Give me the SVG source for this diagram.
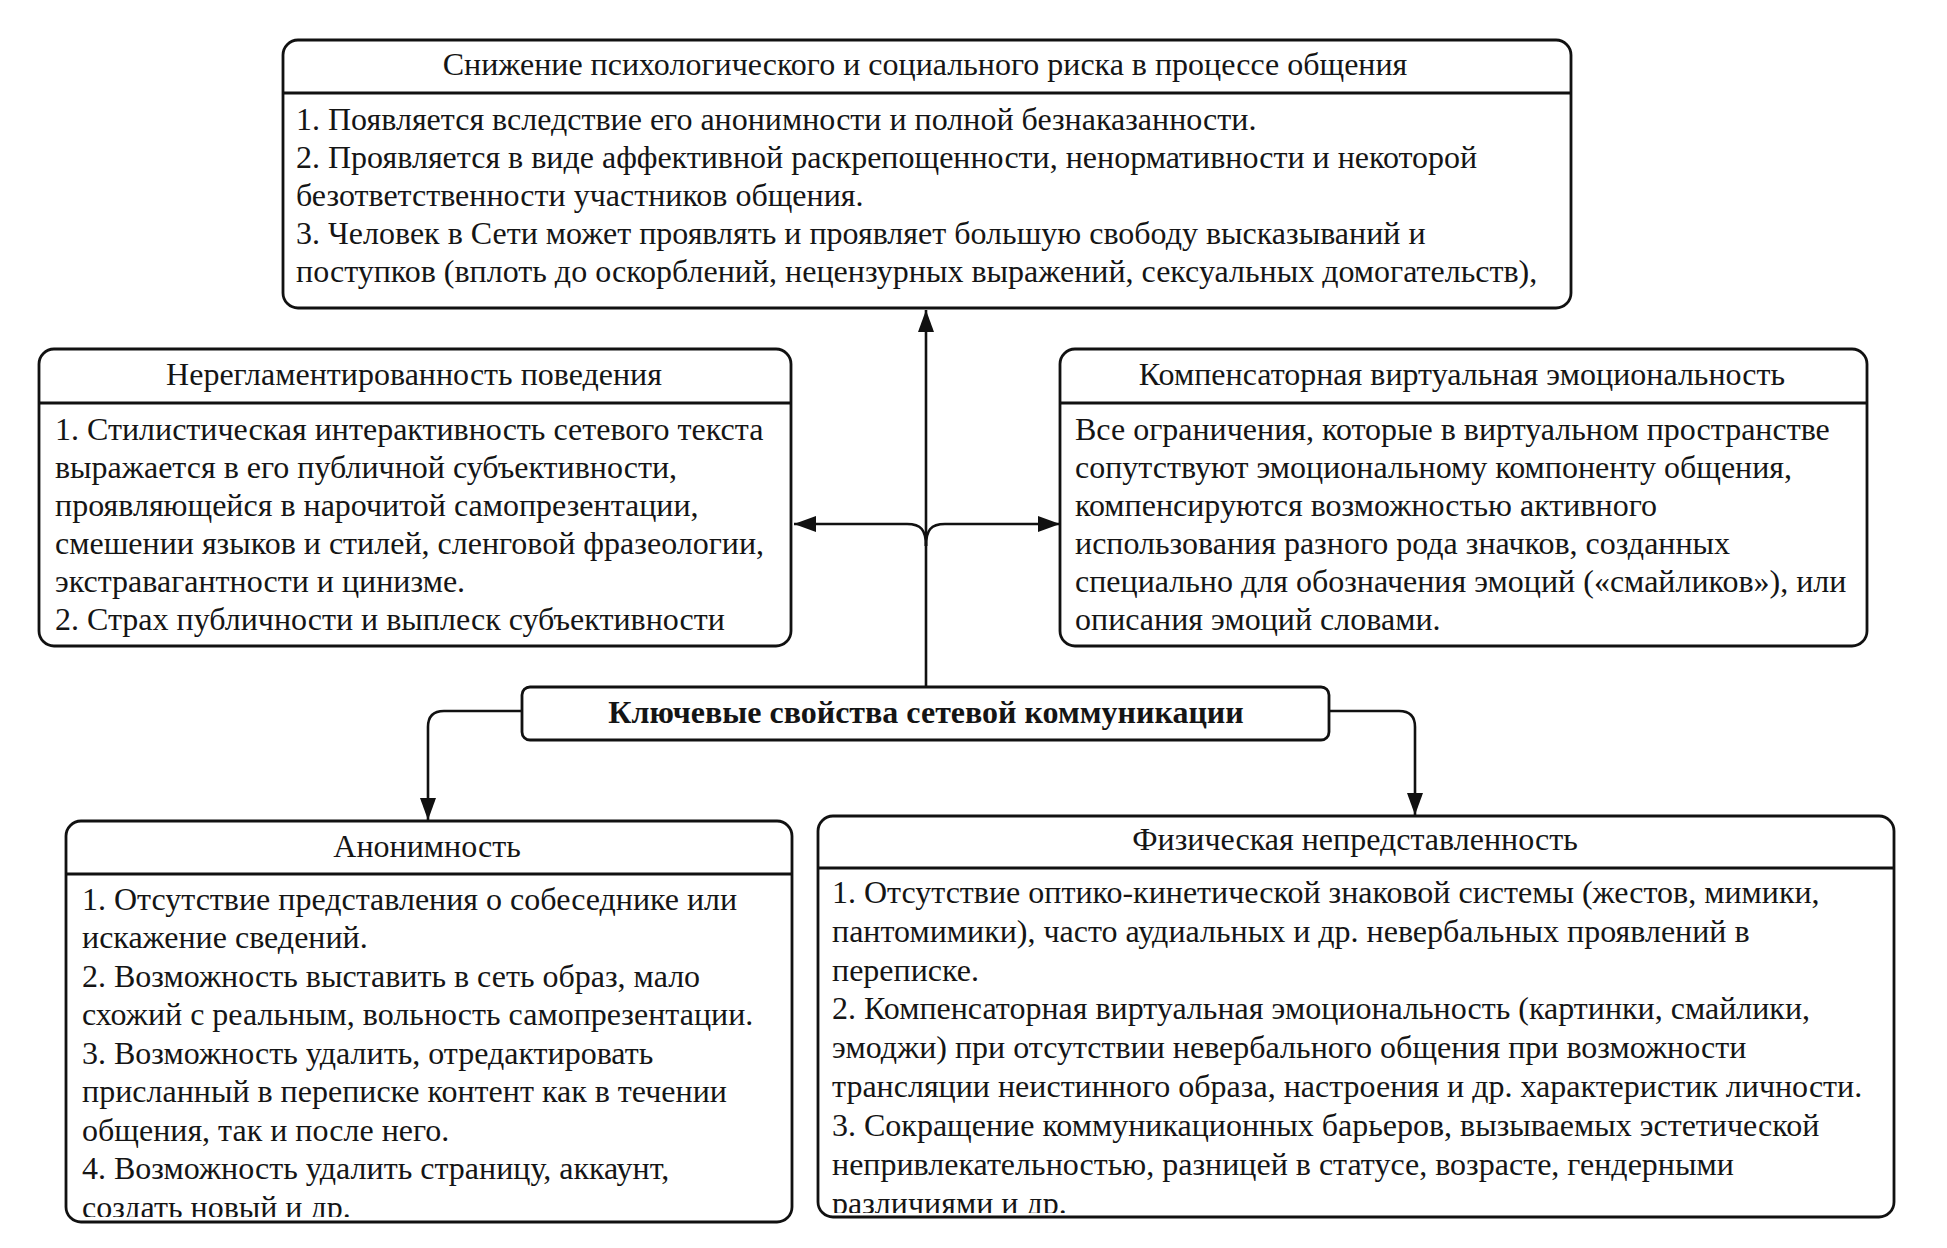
<svg xmlns="http://www.w3.org/2000/svg" width="1947" height="1248" viewBox="0 0 1947 1248">
<style>
.box{fill:#fff;stroke:#111;stroke-width:2.8}
.sep{stroke:#111;stroke-width:2.8}
.t{font-family:"Liberation Serif","Times New Roman",serif;font-size:32px;fill:#151515}
.m{text-anchor:middle}
.b{font-weight:bold}
.c{fill:none;stroke:#111;stroke-width:2.6}
</style>
<defs>
<marker id="arr" markerWidth="22" markerHeight="16" refX="22" refY="8" orient="auto" markerUnits="userSpaceOnUse">
<path d="M0,0 L22,8 L0,16 z" fill="#111"/>
</marker>
<clipPath id="clipTop"><rect x="283" y="94" width="1288" height="211"/></clipPath>
<clipPath id="clipAnon"><rect x="66" y="875" width="726" height="342"/></clipPath>
<clipPath id="clipPhys"><rect x="818" y="869" width="1076" height="344"/></clipPath>
</defs>
<rect width="1947" height="1248" fill="#fff"/>

<g id="connectors">
<path class="c" d="M926 687 L926 310" marker-end="url(#arr)"/>
<path class="c" d="M926 546 C926 530 921 524 907 524 L794 524" marker-end="url(#arr)"/>
<path class="c" d="M926 546 C926 530 931 524 945 524 L1060 524" marker-end="url(#arr)"/>
<path class="c" d="M521 711 L444 711 Q428 711 428 727 L428 820" marker-end="url(#arr)"/>
<path class="c" d="M1329 711 L1399 711 Q1415 711 1415 727 L1415 815" marker-end="url(#arr)"/>
</g>

<g id="node-risk">
<rect class="box" x="283" y="40" width="1288" height="268" rx="15"/>
<line class="sep" x1="283" y1="93" x2="1571" y2="93"/>
<text class="t m" x="925" y="75">Снижение психологического и социального риска в процессе общения</text>
<g clip-path="url(#clipTop)">
<text class="t" x="296" y="130">1. Появляется вследствие его анонимности и полной безнаказанности.</text>
<text class="t" x="296" y="168">2. Проявляется в виде аффективной раскрепощенности, ненормативности и некоторой</text>
<text class="t" x="296" y="206">безответственности участников общения.</text>
<text class="t" x="296" y="244">3. Человек в Сети может проявлять и проявляет большую свободу высказываний и</text>
<text class="t" x="296" y="282">поступков (вплоть до оскорблений, нецензурных выражений, сексуальных домогательств),</text>
</g>
</g>

<g id="node-behavior">
<rect class="box" x="39" y="349" width="752" height="297" rx="15"/>
<line class="sep" x1="39" y1="403" x2="791" y2="403"/>
<text class="t m" x="414" y="385">Нерегламентированность поведения</text>
<text class="t" x="55" y="440">1. Стилистическая интерактивность сетевого текста</text>
<text class="t" x="55" y="478">выражается в его публичной субъективности,</text>
<text class="t" x="55" y="516">проявляющейся в нарочитой самопрезентации,</text>
<text class="t" x="55" y="554">смешении языков и стилей, сленговой фразеологии,</text>
<text class="t" x="55" y="592">экстравагантности и цинизме.</text>
<text class="t" x="55" y="630">2. Страх публичности и выплеск субъективности</text>
</g>

<g id="node-emotion">
<rect class="box" x="1060" y="349" width="807" height="297" rx="15"/>
<line class="sep" x1="1060" y1="403" x2="1867" y2="403"/>
<text class="t m" x="1462" y="385">Компенсаторная виртуальная эмоциональность</text>
<text class="t" x="1075" y="440">Все ограничения, которые в виртуальном пространстве</text>
<text class="t" x="1075" y="478">сопутствуют эмоциональному компоненту общения,</text>
<text class="t" x="1075" y="516">компенсируются возможностью активного</text>
<text class="t" x="1075" y="554">использования разного рода значков, созданных</text>
<text class="t" x="1075" y="592">специально для обозначения эмоций («смайликов»), или</text>
<text class="t" x="1075" y="630">описания эмоций словами.</text>
</g>

<g id="node-center">
<rect class="box" x="522" y="687" width="807" height="53" rx="8"/>
<text class="t m b" x="926" y="723">Ключевые свойства сетевой коммуникации</text>
</g>

<g id="node-anon">
<rect class="box" x="66" y="821" width="726" height="401" rx="15"/>
<line class="sep" x1="66" y1="874" x2="792" y2="874"/>
<text class="t m" x="427" y="857">Анонимность</text>
<g clip-path="url(#clipAnon)">
<text class="t" x="82" y="910">1. Отсутствие представления о собеседнике или</text>
<text class="t" x="82" y="948">искажение сведений.</text>
<text class="t" x="82" y="987">2. Возможность выставить в сеть образ, мало</text>
<text class="t" x="82" y="1025">схожий с реальным, вольность самопрезентации.</text>
<text class="t" x="82" y="1064">3. Возможность удалить, отредактировать</text>
<text class="t" x="82" y="1102">присланный в переписке контент как в течении</text>
<text class="t" x="82" y="1141">общения, так и после него.</text>
<text class="t" x="82" y="1179">4. Возможность удалить страницу, аккаунт,</text>
<text class="t" x="82" y="1218">создать новый и др.</text>
</g>
</g>

<g id="node-physical">
<rect class="box" x="818" y="816" width="1076" height="401" rx="15"/>
<line class="sep" x1="818" y1="868" x2="1894" y2="868"/>
<text class="t m" x="1355" y="850">Физическая непредставленность</text>
<g clip-path="url(#clipPhys)">
<text class="t" x="832" y="903">1. Отсутствие оптико-кинетической знаковой системы (жестов, мимики,</text>
<text class="t" x="832" y="942">пантомимики), часто аудиальных и др. невербальных проявлений в</text>
<text class="t" x="832" y="981">переписке.</text>
<text class="t" x="832" y="1019">2. Компенсаторная виртуальная эмоциональность (картинки, смайлики,</text>
<text class="t" x="832" y="1058">эмоджи) при отсутствии невербального общения при возможности</text>
<text class="t" x="832" y="1097">трансляции неистинного образа, настроения и др. характеристик личности.</text>
<text class="t" x="832" y="1136">3. Сокращение коммуникационных барьеров, вызываемых эстетической</text>
<text class="t" x="832" y="1175">непривлекательностью, разницей в статусе, возрасте, гендерными</text>
<text class="t" x="832" y="1214">различиями и др.</text>
</g>
</g>
</svg>
